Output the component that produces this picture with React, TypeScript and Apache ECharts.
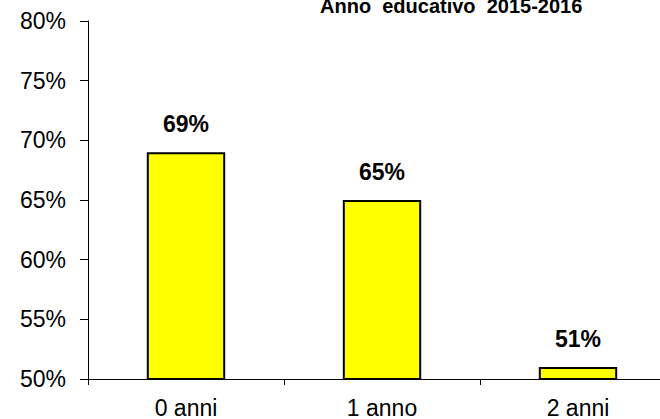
import React, { useEffect, useRef } from "react";
import * as echarts from "echarts";

const categories = ["0 anni", "1 anno", "2 anni"];
const values = [69, 65, 51];
const titleText = "Anno  educativo  2015-2016";

export default function App() {
  const ref = useRef<HTMLDivElement>(null);
  useEffect(() => {
    document.body.style.margin = "0";
    const chart = echarts.init(ref.current!, null, { renderer: "svg" });
    const font = "'Liberation Sans', Arial, sans-serif";
    chart.setOption({
      animation: false,
      backgroundColor: "#ffffff",
      grid: { left: 88, top: 21, bottom: 39, right: 0, containLabel: false },
      graphic: [
        {
          type: "text",
          left: 454 - 134,
          top: -4,
          style: {
            text: titleText,
            font: `bold 20px ${font}`,
            fill: "#000",
          },
        },
      ],
      xAxis: {
        type: "category",
        data: categories,
        axisLine: { lineStyle: { color: "#000", width: 1 } },
        axisTick: { show: true, length: 6, lineStyle: { color: "#000" } },
        axisLabel: { color: "#000", fontSize: 23, fontFamily: font, margin: 17 },
      },
      yAxis: {
        type: "value",
        min: 50,
        max: 80,
        interval: 5,
        splitLine: { show: false },
        axisLine: { show: true, lineStyle: { color: "#000", width: 1 } },
        axisTick: { show: true, length: 8, lineStyle: { color: "#000" } },
        axisLabel: {
          color: "#000",
          fontSize: 23,
          fontFamily: font,
          margin: 22,
          formatter: (v: number) => `${v}%`,
        },
      },
      series: [
        {
          type: "bar",
          data: values,
          barWidth: "40%",
          itemStyle: { color: "#FFFF00", borderColor: "#000", borderWidth: 2 },
          label: {
            show: true,
            position: "top",
            distance: 17,
            color: "#000",
            fontSize: 23,
            fontWeight: "bold",
            fontFamily: font,
            formatter: (p: any) => `${p.value}%`,
          },
        },
      ],
    });
    return () => chart.dispose();
  }, []);
  return (
    <div
      style={{
        position: "absolute",
        left: 0,
        top: 0,
        width: 660,
        height: 419,
        overflow: "hidden",
      }}
    >
      <div ref={ref} style={{ width: 676, height: 419 }} />
    </div>
  );
}
